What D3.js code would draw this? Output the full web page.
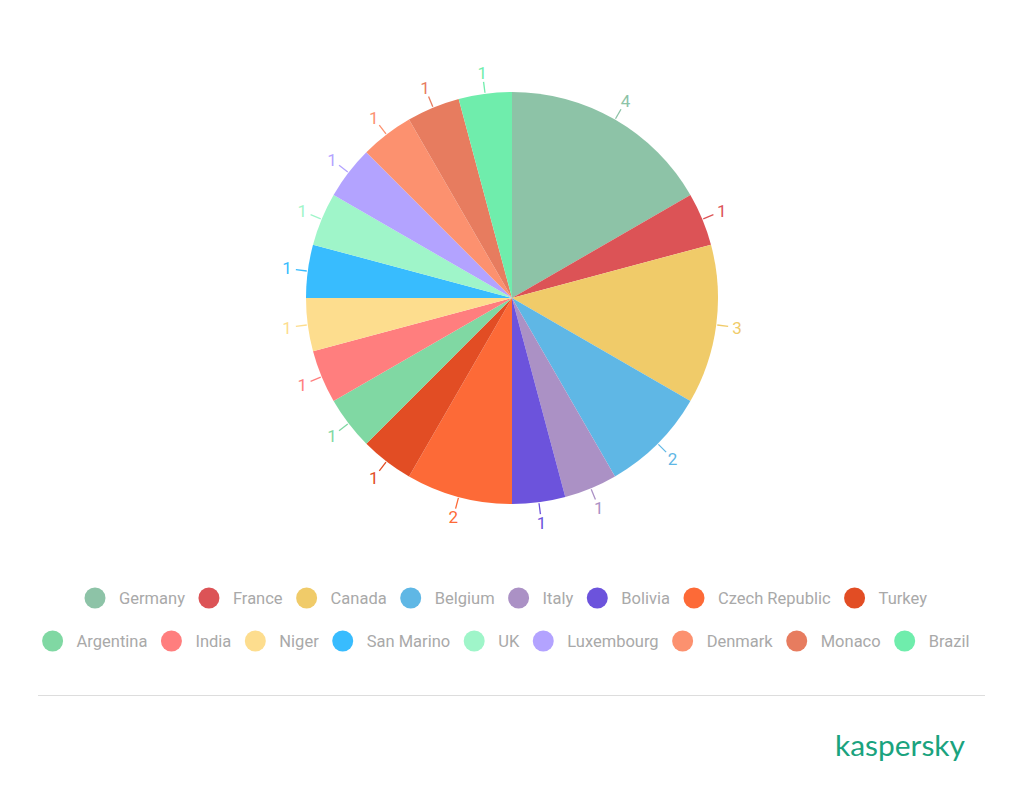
<!DOCTYPE html>
<html><head><meta charset="utf-8">
<script src="https://cdn.jsdelivr.net/npm/d3@7"></script>
<style>html,body{margin:0;padding:0;background:#fff;}svg{display:block;font-family:Roboto,"Noto Sans",sans-serif;}</style>
</head><body>
<svg id="c" width="1024" height="800"></svg>
<script>
const countries = ["Germany","France","Canada","Belgium","Italy","Bolivia","Czech Republic","Turkey","Argentina","India","Niger","San Marino","UK","Luxembourg","Denmark","Monaco","Brazil"];
const values = [4,1,3,2,1,1,2,1,1,1,1,1,1,1,1,1,1];
const colors = ["#8dc3a7","#dc5356","#f0cb69","#5fb7e5","#ab91c5","#6c53dc","#fd6a37","#e24d24","#80d8a3","#ff7e7e","#fddd8e","#38bcfe","#9ff5c9","#b3a3ff","#fc916f","#e77c5f","#6fedac"];
const legendRows = [countries.slice(0,8), countries.slice(8)];

const svg = d3.select("#c");
const cx = 512, cy = 298, R = 206;
const color = d3.scaleOrdinal().domain(countries).range(colors);
const data = countries.map((c,i)=>({name:c, value:values[i]}));
const pie = d3.pie().value(d=>d.value).sort(null);
const arcs = pie(data);
const arc = d3.arc().innerRadius(0).outerRadius(R);
const g = svg.append("g").attr("transform",`translate(${cx},${cy})`);
g.selectAll("path.s").data(arcs).join("path").attr("class","s")
  .attr("d",arc).attr("fill",d=>color(d.data.name));

const pt = (a,r)=>[Math.sin(a)*r, -Math.cos(a)*r];
arcs.forEach(d=>{
  const a = (d.startAngle+d.endAngle)/2;
  const p1 = pt(a,R+1), p2 = pt(a,R+12);
  g.append("path").attr("d",d3.line()([p1,p2])).attr("stroke",color(d.data.name))
    .attr("stroke-width",1.3).attr("fill","none");
  const lp = pt(a,R+21);
  g.append("text").attr("x",lp[0]).attr("y",lp[1]).attr("text-anchor","middle")
    .attr("dominant-baseline","central").attr("font-size",17)
    .attr("fill",color(d.data.name)).text(d.value);
});

// legend
const rowY = [598, 641];
const legendCenter = 506;
legendRows.forEach((row,ri)=>{
  const lg = svg.append("g");
  let x = 0;
  row.forEach((name,i)=>{
    const it = lg.append("g").attr("transform",`translate(${x},${rowY[ri]})`);
    it.append("circle").attr("cx",10).attr("cy",0).attr("r",10.5).attr("fill",color(name));
    const t = it.append("text").attr("x",34).attr("y",0).attr("dominant-baseline","central")
      .attr("font-size",16.5).attr("fill","#a9a9a9").text(name);
    const w = t.node().getComputedTextLength();
    x += 34 + w + 14;
  });
  const total = x - 14;
  lg.attr("transform",`translate(${legendCenter-total/2},0)`);
});

svg.append("line").attr("x1",38).attr("x2",985).attr("y1",695.5).attr("y2",695.5)
  .attr("stroke","#dddddd").attr("stroke-width",1);
svg.append("text").attr("x",835).attr("y",756).attr("font-size",29)
  .attr("font-family","Lato, 'Noto Sans', sans-serif")
  .attr("textLength",130).attr("lengthAdjust","spacingAndGlyphs")
  .attr("fill","#1aa37e").text("kaspersky");
</script>
</body></html>
